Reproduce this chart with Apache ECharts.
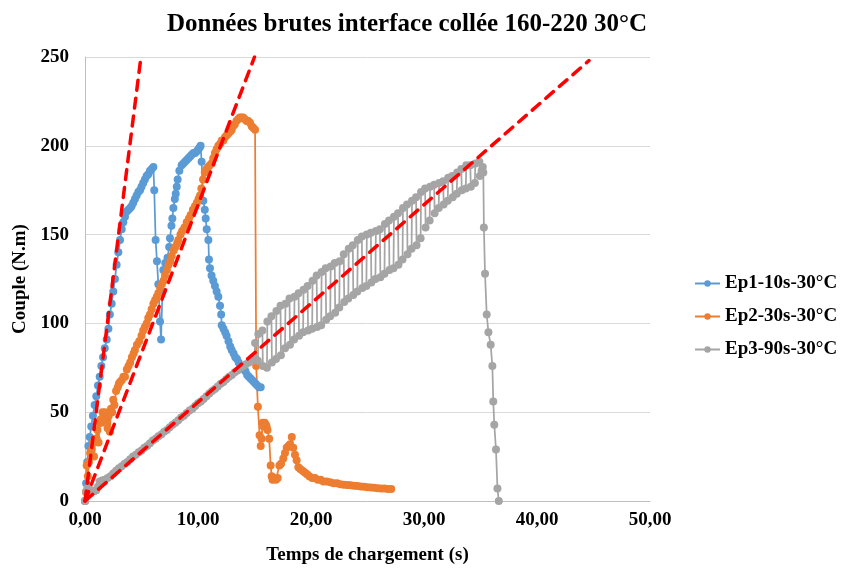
<!DOCTYPE html>
<html>
<head>
<meta charset="utf-8">
<script src="https://cdn.jsdelivr.net/npm/echarts@6/dist/echarts.min.js"></script>
<style>
html,body{margin:0;padding:0;background:#fff;}
#chart{width:845px;height:570px;}
</style>
</head>
<body>
<div id="chart"></div>
<script>
var titleText = 'Données brutes interface collée 160-220 30°C';
var xAxisName = 'Temps de chargement (s)';
var yAxisName = 'Couple (N.m)';
var seriesNames = ['Ep1-10s-30°C', 'Ep2-30s-30°C', 'Ep3-90s-30°C'];

var blueData = [[0,0],[0.1,10],[0.2,22],[0.3,31],[0.42,36],[0.55,42],[0.7,48],[0.85,54],[1.0,59],[1.15,65],[1.3,70],[1.45,76],[1.6,81],[1.75,86],[1.92,91],[2.07,97],[2.2,105],[2.36,111],[2.5,118],[2.65,125],[2.8,133],[2.95,140],[3.1,147],[3.25,153],[3.39,157],[3.54,160],[3.69,163],[3.85,164],[4.0,165],[4.12,166],[4.27,168],[4.42,170],[4.57,172],[4.72,174],[4.87,175],[5.0,177],[5.15,179],[5.3,181],[5.45,183],[5.6,184],[5.75,186],[5.9,187],[6.05,188],[6.13,175],[6.25,147],[6.37,135],[6.49,122],[6.64,101],[6.73,91],[6.85,118],[6.93,130],[7.1,134],[7.3,137],[7.45,143],[7.52,148],[7.65,155],[7.73,159],[7.82,165],[7.95,170],[8.03,173],[8.12,177],[8.2,181],[8.35,186],[8.55,189],[8.7,190],[8.85,191],[9.0,192],[9.15,193],[9.3,194],[9.44,195],[9.6,196],[9.75,196],[9.9,197],[10.03,198],[10.15,199],[10.23,200],[10.32,191],[10.47,169],[10.6,164],[10.68,159],[10.77,153],[10.92,147],[10.97,136],[11.06,131],[11.2,127],[11.35,124],[11.5,121],[11.65,118],[11.8,115],[11.95,110],[12.05,105],[12.1,99],[12.25,97],[12.4,95],[12.53,93],[12.7,90],[12.85,87],[12.98,85],[13.15,83],[13.3,81],[13.45,80],[13.6,78],[13.75,76],[13.9,75],[14.05,74],[14.2,73],[14.35,71],[14.5,70],[14.65,69],[14.8,68],[14.95,67],[15.1,66],[15.25,65],[15.4,64],[15.55,64]];

var orangeData = [[0,0],[0.08,5],[0.15,20],[0.25,14],[0.35,22],[0.45,27],[0.59,29],[0.7,33],[0.8,25],[0.9,35],[1.03,35],[1.1,40],[1.2,33],[1.3,44],[1.4,46],[1.47,44],[1.55,50],[1.65,47],[1.77,50],[1.9,45],[2.0,41],[2.1,48],[2.2,39],[2.3,52],[2.4,50],[2.5,57],[2.6,54],[2.75,62],[2.9,64],[3.0,66],[3.1,67],[3.25,68],[3.4,70],[3.54,70],[3.7,74],[3.85,76],[4.0,78],[4.15,81],[4.3,83],[4.42,85],[4.6,88],[4.8,90],[5.0,93],[5.15,96],[5.3,98],[5.46,100],[5.6,103],[5.75,105],[5.9,108],[6.05,111],[6.2,113],[6.35,115],[6.49,117],[6.65,120],[6.8,122],[6.95,124],[7.08,127],[7.25,130],[7.4,133],[7.55,135],[7.67,138],[7.85,141],[8.0,143],[8.15,145],[8.26,147],[8.45,150],[8.6,152],[8.8,154],[9.0,157],[9.2,159],[9.35,161],[9.55,164],[9.73,166],[9.9,168],[10.05,170],[10.18,172],[10.3,176],[10.45,181],[10.6,185],[10.75,187],[10.9,188],[11.05,189],[11.2,190],[11.35,193],[11.5,196],[11.65,198],[11.8,200],[11.95,201],[12.1,203],[12.24,203],[12.4,205],[12.55,206],[12.7,207],[12.85,208],[12.98,209],[13.1,211],[13.25,212],[13.4,214],[13.55,215],[13.7,216],[13.85,216],[14.0,216],[14.15,215],[14.3,214],[14.45,214],[14.6,213],[14.75,211],[14.9,210],[15.05,209],[15.15,76],[15.3,53],[15.45,37],[15.55,31],[15.63,35],[15.72,44],[15.8,42],[15.9,44],[16.0,43],[16.07,42],[16.15,40],[16.3,35],[16.43,20],[16.52,14],[16.6,12],[16.75,13],[16.9,12],[17.05,13],[17.2,20],[17.35,21],[17.55,24],[17.7,27],[17.85,30],[18.0,31],[18.15,32],[18.3,36],[18.43,30],[18.58,26],[18.73,23],[18.88,19],[19.05,18],[19.25,17],[19.45,16],[19.65,15],[19.85,14],[20.1,13],[20.35,13],[20.6,12],[20.85,12],[21.1,11],[21.4,11],[21.7,10.5],[22.0,10],[22.3,10],[22.6,9.5],[22.9,9.2],[23.2,9],[23.5,8.8],[23.8,8.6],[24.1,8.4],[24.4,8.2],[24.7,8],[25.0,7.8],[25.3,7.6],[25.6,7.4],[25.9,7.2],[26.2,7],[26.5,7],[26.8,6.8],[27.1,6.7]];

var grayData = [[0,0],[0.1,5],[0.2,7],[0.4,6.5],[0.6,6],[0.8,5.5],[1.0,6],[1.15,8],[1.3,11],[1.5,11.5],[1.75,12],[2.0,13],[2.25,14],[2.5,15.5],[2.75,17],[3.0,18.5],[3.25,19.5],[3.5,21],[3.75,22],[4.0,23.5],[4.25,25],[4.5,26],[4.75,27.5],[5.0,28.5],[5.25,30],[5.5,31],[5.75,32.5],[6.0,34],[6.25,35],[6.5,36.5],[6.75,37.5],[7.0,39],[7.25,40],[7.5,41.5],[7.75,43],[8.0,44],[8.25,45.5],[8.5,47],[8.75,48],[9.0,49.5],[9.25,51],[9.5,52],[9.75,53.5],[10.0,55],[10.25,56],[10.5,57.5],[10.75,59],[11.0,60.5],[11.25,62],[11.5,63],[11.75,64.5],[12.0,66],[12.25,67],[12.5,68.5],[12.75,70],[13.0,71],[13.25,72.5],[13.5,73.5],[13.75,75],[14.0,76],[14.25,77],[14.5,78],[14.75,79],[15.0,80],
[15.05,89],[15.1,80],[15.3,79],[15.34,94],[15.7,96],[15.74,76],[16.1,75],[16.14,101],[16.5,104],[16.54,78],[16.9,80],[16.94,107],[17.3,110],[17.34,82],[17.7,86],[17.74,111],[18.1,114],[18.14,88],[18.5,91],[18.54,115],[18.9,117],[18.94,93],[19.3,95],[19.34,119],[19.7,121],[19.74,96],[20.1,97],[20.14,124],[20.5,127],[20.54,98],[20.9,99],[20.94,129],[21.3,131],[21.34,102],[21.7,104],[21.74,132],[22.1,134],[22.14,106],[22.5,109],[22.54,135],[22.9,139],[22.94,112],[23.3,114],[23.34,142],[23.7,144],[23.74,116],[24.1,118],[24.14,147],[24.5,149],[24.54,120],[24.9,121],[24.94,150],[25.3,151],[25.34,123],[25.7,125],[25.74,152],[26.1,153],[26.14,126],[26.5,128],[26.54,156],[26.9,158],[26.94,130],[27.3,131],[27.34,160],[27.7,162],[27.74,133],[28.1,136],[28.14,165],[28.5,167],[28.54,139],[28.9,142],[28.94,169],[29.3,171],[29.34,144],[29.7,148],[29.74,174],[30.1,176],[30.14,154],[30.5,158],[30.54,177],[30.9,178],[30.94,162],[31.3,165],[31.34,179],[31.7,180],[31.74,167],[32.1,169],[32.14,182],[32.5,183],[32.54,171],[32.9,173],[32.94,185],[33.3,187],[33.34,175],[33.7,176],[33.74,189],[34.1,189],[34.14,177],[34.5,179],[34.54,190],[34.9,191],[34.94,183],[35.1,186],[35.2,188],[35.25,185],[35.3,154],[35.4,128],[35.55,105],[35.7,95],[35.9,88],[36.05,76],[36.13,56],[36.22,43],[36.37,29],[36.5,7],[36.62,0]];

var trend1 = [[0,0],[4.95,250]];
var trend2 = [[0,0],[15.0,250]];
var trend3 = [[0,0],[44.6,248]];

var xMin = 0, xMax = 50, xStep = 10;
var yMin = 0, yMax = 250, yStep = 50;

var colors = ['#5B9BD5', '#ED7D31', '#A5A5A5'];
var FONT = '"Liberation Serif", "Times New Roman", serif';

var chart = echarts.init(document.getElementById('chart'), null, {renderer: 'canvas'});

function dataSeries(name, data, color) {
  return {
    name: name, type: 'line', data: data,
    symbol: 'circle', symbolSize: 8, showSymbol: true,
    lineStyle: {color: color, width: 1.75},
    itemStyle: {color: color},
    emphasis: {disabled: true},
    animation: false
  };
}
function trendSeries(data) {
  return {
    type: 'line', data: data, symbol: 'none', z: 5,
    lineStyle: {color: '#FF0000', width: 3.5, type: [10, 8], cap: 'round'},
    emphasis: {disabled: true}, silent: true, animation: false
  };
}

chart.setOption({
  animation: false,
  backgroundColor: '#fff',
  title: {
    text: titleText, left: 162, top: 7,
    textStyle: {fontFamily: FONT, fontWeight: 'bold', fontSize: 25, color: '#000'}
  },
  grid: {left: 85, right: 195, top: 57, bottom: 68},
  legend: {
    data: seriesNames, orient: 'vertical', left: 689, top: 269,
    itemWidth: 25, itemHeight: 8, itemGap: 14,
    textStyle: {fontFamily: FONT, fontWeight: 'bold', fontSize: 19, color: '#000'}
  },
  xAxis: {
    type: 'value', min: xMin, max: xMax, interval: xStep,
    name: xAxisName, nameLocation: 'middle', nameGap: 45,
    nameTextStyle: {fontFamily: FONT, fontWeight: 'bold', fontSize: 19, color: '#000'},
    axisLine: {show: true, lineStyle: {color: '#BFBFBF', width: 1}},
    axisTick: {show: false},
    splitLine: {show: false},
    axisLabel: {fontFamily: FONT, fontWeight: 'bold', fontSize: 19, color: '#000', margin: 10,
      formatter: function (v) { return v.toFixed(2).replace('.', ','); }}
  },
  yAxis: {
    type: 'value', min: yMin, max: yMax, interval: yStep,
    name: yAxisName, nameLocation: 'middle', nameGap: 54, nameRotate: 90,
    nameTextStyle: {fontFamily: FONT, fontWeight: 'bold', fontSize: 19, color: '#000'},
    axisLine: {show: true, lineStyle: {color: '#BFBFBF', width: 1}},
    axisTick: {show: false},
    splitLine: {show: true, lineStyle: {color: '#D9D9D9', width: 1}},
    axisLabel: {fontFamily: FONT, fontWeight: 'bold', fontSize: 19, color: '#000', margin: 16}
  },
  series: [
    dataSeries(seriesNames[0], blueData, colors[0]),
    dataSeries(seriesNames[1], orangeData, colors[1]),
    dataSeries(seriesNames[2], grayData, colors[2]),
    trendSeries(trend1),
    trendSeries(trend2),
    trendSeries(trend3)
  ]
});
</script>
</body>
</html>
